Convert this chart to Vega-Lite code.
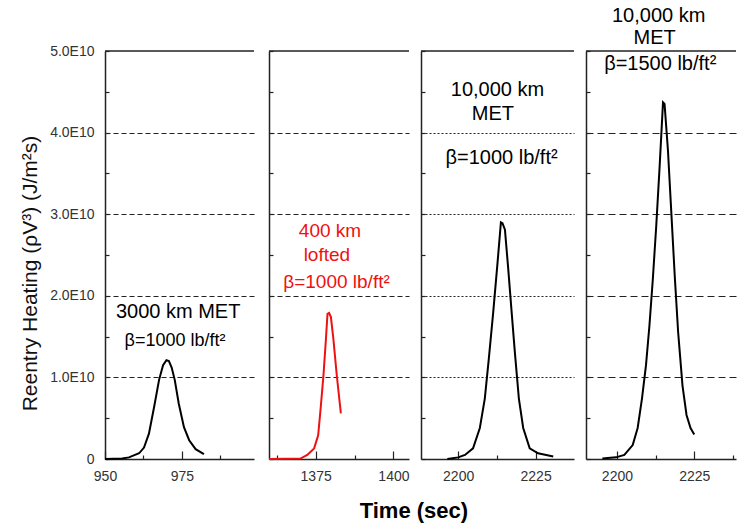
{
  "$schema": "https://vega.github.io/schema/vega-lite/v6.json",
  "background": "white",
  "padding": {"left": 19, "top": 5, "right": 0, "bottom": 6},
  "spacing": 10,
  "config": {
    "font": "Liberation Sans",
    "view": {"stroke": null},
    "axis": {
      "labelFont": "Liberation Sans",
      "labelFontSize": 14,
      "labelColor": "#333",
      "labelFlush": false,
      "domainColor": "#222",
      "domainWidth": 1.5,
      "tickColor": "#222",
      "tickWidth": 1.2,
      "gridColor": "#222",
      "gridWidth": 1
    }
  },
  "title": {"text": "Time (sec)", "orient": "bottom", "anchor": "middle", "fontSize": 22, "fontWeight": "bold", "font": "Liberation Sans", "color": "#000", "offset": 18, "dx": 36},
  "datasets": {
    "curves": [
      {"panel": 1, "t": 950, "v": 0},
      {"panel": 1, "t": 955.6, "v": 0.005e10},
      {"panel": 1, "t": 957.8, "v": 0.02e10},
      {"panel": 1, "t": 961.1, "v": 0.07e10},
      {"panel": 1, "t": 962.7, "v": 0.14e10},
      {"panel": 1, "t": 964.3, "v": 0.31e10},
      {"panel": 1, "t": 966.0, "v": 0.64e10},
      {"panel": 1, "t": 967.6, "v": 0.97e10},
      {"panel": 1, "t": 968.9, "v": 1.15e10},
      {"panel": 1, "t": 970.0, "v": 1.21e10},
      {"panel": 1, "t": 970.8, "v": 1.2e10},
      {"panel": 1, "t": 971.7, "v": 1.12e10},
      {"panel": 1, "t": 972.7, "v": 0.97e10},
      {"panel": 1, "t": 974.0, "v": 0.68e10},
      {"panel": 1, "t": 975.7, "v": 0.39e10},
      {"panel": 1, "t": 977.4, "v": 0.23e10},
      {"panel": 1, "t": 979.5, "v": 0.12e10},
      {"panel": 1, "t": 982.2, "v": 0.06e10},
      {"panel": 2, "t": 1360, "v": 0},
      {"panel": 2, "t": 1370.1, "v": 0.005e10},
      {"panel": 2, "t": 1372.3, "v": 0.05e10},
      {"panel": 2, "t": 1374.5, "v": 0.13e10},
      {"panel": 2, "t": 1375.8, "v": 0.29e10},
      {"panel": 2, "t": 1376.6, "v": 0.62e10},
      {"panel": 2, "t": 1377.5, "v": 1.02e10},
      {"panel": 2, "t": 1378.3, "v": 1.47e10},
      {"panel": 2, "t": 1378.8, "v": 1.78e10},
      {"panel": 2, "t": 1379.3, "v": 1.79e10},
      {"panel": 2, "t": 1379.9, "v": 1.74e10},
      {"panel": 2, "t": 1380.7, "v": 1.47e10},
      {"panel": 2, "t": 1381.8, "v": 1.02e10},
      {"panel": 2, "t": 1383.1, "v": 0.56e10},
      {"panel": 3, "t": 2196.5, "v": 0},
      {"panel": 3, "t": 2200.0, "v": 0.02e10},
      {"panel": 3, "t": 2202.2, "v": 0.05e10},
      {"panel": 3, "t": 2204.8, "v": 0.13e10},
      {"panel": 3, "t": 2207.0, "v": 0.38e10},
      {"panel": 3, "t": 2208.6, "v": 0.74e10},
      {"panel": 3, "t": 2209.9, "v": 1.23e10},
      {"panel": 3, "t": 2211.3, "v": 1.79e10},
      {"panel": 3, "t": 2212.7, "v": 2.40e10},
      {"panel": 3, "t": 2213.8, "v": 2.90e10},
      {"panel": 3, "t": 2214.3, "v": 2.89e10},
      {"panel": 3, "t": 2215.1, "v": 2.81e10},
      {"panel": 3, "t": 2216.1, "v": 2.36e10},
      {"panel": 3, "t": 2217.2, "v": 1.83e10},
      {"panel": 3, "t": 2218.3, "v": 1.31e10},
      {"panel": 3, "t": 2219.6, "v": 0.74e10},
      {"panel": 3, "t": 2221.0, "v": 0.38e10},
      {"panel": 3, "t": 2223.1, "v": 0.13e10},
      {"panel": 3, "t": 2225.8, "v": 0.07e10},
      {"panel": 3, "t": 2230.7, "v": 0.03e10},
      {"panel": 4, "t": 2195.3, "v": 0.005e10},
      {"panel": 4, "t": 2199.7, "v": 0.02e10},
      {"panel": 4, "t": 2202.4, "v": 0.05e10},
      {"panel": 4, "t": 2205.1, "v": 0.17e10},
      {"panel": 4, "t": 2206.7, "v": 0.38e10},
      {"panel": 4, "t": 2208.1, "v": 0.74e10},
      {"panel": 4, "t": 2209.4, "v": 1.15e10},
      {"panel": 4, "t": 2210.5, "v": 1.63e10},
      {"panel": 4, "t": 2211.6, "v": 2.20e10},
      {"panel": 4, "t": 2212.7, "v": 2.85e10},
      {"panel": 4, "t": 2213.8, "v": 3.58e10},
      {"panel": 4, "t": 2214.9, "v": 4.37e10},
      {"panel": 4, "t": 2215.4, "v": 4.35e10},
      {"panel": 4, "t": 2216.5, "v": 3.78e10},
      {"panel": 4, "t": 2217.6, "v": 3.01e10},
      {"panel": 4, "t": 2218.7, "v": 2.24e10},
      {"panel": 4, "t": 2219.8, "v": 1.55e10},
      {"panel": 4, "t": 2221.2, "v": 0.90e10},
      {"panel": 4, "t": 2222.5, "v": 0.54e10},
      {"panel": 4, "t": 2223.8, "v": 0.38e10},
      {"panel": 4, "t": 2225.0, "v": 0.30e10}
    ],
    "notes": [
      {"panel": 1, "t": 973.8, "v": 1.8e10, "label": "3000 km MET", "size": 20},
      {"panel": 1, "t": 972.8, "v": 1.44e10, "label": "β=1000 lb/ft²", "size": 18},
      {"panel": 2, "t": 1379.6, "v": 2.8e10, "label": "400 km", "size": 19},
      {"panel": 2, "t": 1378.6, "v": 2.5e10, "label": "lofted", "size": 19},
      {"panel": 2, "t": 1381.7, "v": 2.17e10, "label": "β=1000 lb/ft²", "size": 19},
      {"panel": 3, "t": 2212.7, "v": 4.52e10, "label": "10,000 km", "size": 20},
      {"panel": 3, "t": 2211.2, "v": 4.23e10, "label": "MET", "size": 20},
      {"panel": 3, "t": 2214.0, "v": 3.69e10, "label": "β=1000 lb/ft²", "size": 20},
      {"panel": 4, "t": 2213.5, "v": 5.43e10, "label": "10,000 km", "size": 20},
      {"panel": 4, "t": 2212.2, "v": 5.16e10, "label": "MET", "size": 20},
      {"panel": 4, "t": 2214.0, "v": 4.84e10, "label": "β=1500 lb/ft²", "size": 20}
    ],
    "frame": [{"v": 50000000000}]
  },
  "hconcat": [
    {
      "width": 149, "height": 408,
      "encoding": {
        "x": {"field": "t", "type": "quantitative", "scale": {"domain": [950, 998.5], "nice": false, "zero": false},
          "axis": {"title": null, "values": [950, 962.5, 975, 987.5], "grid": false, "format": "d",
            "labelExpr": "datum.value % 25 === 0 ? datum.label : ''",
            "tickSize": {"condition": {"test": "datum.value % 25 === 0", "value": -8}, "value": -4},
            "labelPadding": 18}},
        "y": {"field": "v", "type": "quantitative", "scale": {"domain": [0, 50000000000], "nice": false, "zero": false},
          "axis": {"title": "Reentry Heating (ρV³)  (J/m²s)", "titleFontSize": 21, "titleFontWeight": "normal", "titleColor": "#111", "titleFont": "Liberation Sans",
            "titleX": -69, "titleY": 222, "titleBaseline": "alphabetic", "titleAlign": "center", "titleAngle": -90,
            "values": [0, 5000000000, 10000000000, 15000000000, 20000000000, 25000000000, 30000000000, 35000000000, 40000000000, 45000000000, 50000000000],
            "labelExpr": "datum.value === 0 ? '0' : (datum.value % 10000000000 === 0 ? format(datum.value / 10000000000, '.1f') + 'E10' : '')",
            "tickSize": -4, "labelPadding": 15,
            "grid": true, "gridDash": [5, 3],
            "gridOpacity": {"condition": {"test": "datum.value % 10000000000 !== 0 || datum.value === 0 || datum.value === 50000000000", "value": 0}, "value": 1}}}
      },
      "layer": [
        {"data": {"name": "frame"}, "mark": {"type": "rule", "color": "#222", "strokeWidth": 1.5}, "encoding": {"y": {"field": "v", "type": "quantitative"}, "x": null}},
        {"data": {"name": "curves"}, "transform": [{"filter": "datum.panel === 1"}], "mark": {"type": "line", "color": "#000", "strokeWidth": 2}},
        {"data": {"name": "notes"}, "transform": [{"filter": "datum.panel === 1"}], "mark": {"type": "text", "color": "#000", "font": "Liberation Sans", "baseline": "middle", "align": "center"},
          "encoding": {"text": {"field": "label"}, "size": {"field": "size", "type": "quantitative", "scale": null}}}
      ]
    },
    {
      "width": 140, "height": 408,
      "encoding": {
        "x": {"field": "t", "type": "quantitative", "scale": {"domain": [1360, 1405], "nice": false, "zero": false},
          "axis": {"title": null, "values": [1362.5, 1375, 1387.5, 1400], "grid": false, "format": "d",
            "labelExpr": "datum.value % 25 === 0 ? datum.label : ''",
            "tickSize": {"condition": {"test": "datum.value % 25 === 0", "value": -8}, "value": -4},
            "labelPadding": 18}},
        "y": {"field": "v", "type": "quantitative", "scale": {"domain": [0, 50000000000], "nice": false, "zero": false},
          "axis": {"title": null, "labels": false,
            "values": [0, 5000000000, 10000000000, 15000000000, 20000000000, 25000000000, 30000000000, 35000000000, 40000000000, 45000000000, 50000000000],
            "tickSize": -4, "grid": true, "gridDash": [5, 3],
            "gridOpacity": {"condition": {"test": "datum.value % 10000000000 !== 0 || datum.value === 0 || datum.value === 50000000000", "value": 0}, "value": 1}}}
      },
      "layer": [
        {"data": {"name": "frame"}, "mark": {"type": "rule", "color": "#222", "strokeWidth": 1.5}, "encoding": {"y": {"field": "v", "type": "quantitative"}, "x": null}},
        {"data": {"name": "curves"}, "transform": [{"filter": "datum.panel === 2"}], "mark": {"type": "line", "color": "#ee1111", "strokeWidth": 2}},
        {"data": {"name": "notes"}, "transform": [{"filter": "datum.panel === 2"}], "mark": {"type": "text", "color": "#ee1111", "font": "Liberation Sans", "baseline": "middle", "align": "center"},
          "encoding": {"text": {"field": "label"}, "size": {"field": "size", "type": "quantitative", "scale": null}}}
      ]
    },
    {
      "width": 153, "height": 408,
      "encoding": {
        "x": {"field": "t", "type": "quantitative", "scale": {"domain": [2188, 2237.4], "nice": false, "zero": false},
          "axis": {"title": null, "values": [2200, 2212.5, 2225], "grid": false, "format": "d",
            "labelExpr": "datum.value % 25 === 0 ? datum.label : ''",
            "tickSize": {"condition": {"test": "datum.value % 25 === 0", "value": -8}, "value": -4},
            "labelPadding": 18}},
        "y": {"field": "v", "type": "quantitative", "scale": {"domain": [0, 50000000000], "nice": false, "zero": false},
          "axis": {"title": null, "labels": false,
            "values": [0, 5000000000, 10000000000, 15000000000, 20000000000, 25000000000, 30000000000, 35000000000, 40000000000, 45000000000, 50000000000],
            "tickSize": -4, "grid": true, "gridDash": [2, 2],
            "gridOpacity": {"condition": {"test": "datum.value % 10000000000 !== 0 || datum.value === 0 || datum.value === 50000000000", "value": 0}, "value": 1}}}
      },
      "layer": [
        {"data": {"name": "frame"}, "mark": {"type": "rule", "color": "#222", "strokeWidth": 1.5}, "encoding": {"y": {"field": "v", "type": "quantitative"}, "x": null}},
        {"data": {"name": "curves"}, "transform": [{"filter": "datum.panel === 3"}], "mark": {"type": "line", "color": "#000", "strokeWidth": 2}},
        {"data": {"name": "notes"}, "transform": [{"filter": "datum.panel === 3"}], "mark": {"type": "text", "color": "#000", "font": "Liberation Sans", "baseline": "middle", "align": "center"},
          "encoding": {"text": {"field": "label"}, "size": {"field": "size", "type": "quantitative", "scale": null}}}
      ]
    },
    {
      "width": 150, "height": 408,
      "encoding": {
        "x": {"field": "t", "type": "quantitative", "scale": {"domain": [2190, 2238.5], "nice": false, "zero": false},
          "axis": {"title": null, "values": [2200, 2212.5, 2225, 2237.5], "grid": false, "format": "d",
            "labelExpr": "datum.value % 25 === 0 ? datum.label : ''",
            "tickSize": {"condition": {"test": "datum.value % 25 === 0", "value": -8}, "value": -4},
            "labelPadding": 18}},
        "y": {"field": "v", "type": "quantitative", "scale": {"domain": [0, 50000000000], "nice": false, "zero": false},
          "axis": {"title": null, "labels": false,
            "values": [0, 5000000000, 10000000000, 15000000000, 20000000000, 25000000000, 30000000000, 35000000000, 40000000000, 45000000000, 50000000000],
            "tickSize": -4, "grid": true, "gridDash": [7, 4],
            "gridOpacity": {"condition": {"test": "datum.value % 10000000000 !== 0 || datum.value === 0 || datum.value === 50000000000", "value": 0}, "value": 1}}}
      },
      "layer": [
        {"data": {"name": "frame"}, "mark": {"type": "rule", "color": "#222", "strokeWidth": 1.5}, "encoding": {"y": {"field": "v", "type": "quantitative"}, "x": null}},
        {"data": {"name": "curves"}, "transform": [{"filter": "datum.panel === 4"}], "mark": {"type": "line", "color": "#000", "strokeWidth": 2}},
        {"data": {"name": "notes"}, "transform": [{"filter": "datum.panel === 4"}], "mark": {"type": "text", "color": "#000", "font": "Liberation Sans", "baseline": "middle", "align": "center"},
          "encoding": {"text": {"field": "label"}, "size": {"field": "size", "type": "quantitative", "scale": null}}}
      ]
    }
  ]
}
